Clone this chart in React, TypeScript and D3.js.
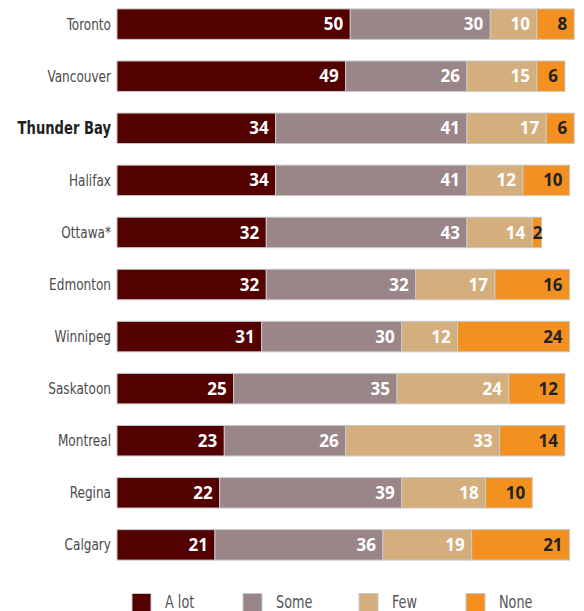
import React from "react";
import * as d3 from "d3";

const cities = ["Toronto", "Vancouver", "Thunder Bay", "Halifax", "Ottawa*", "Edmonton", "Winnipeg", "Saskatoon", "Montreal", "Regina", "Calgary"];
const aLot = [50, 49, 34, 34, 32, 32, 31, 25, 23, 22, 21];
const some = [30, 26, 41, 41, 43, 32, 30, 35, 26, 39, 36];
const few = [10, 15, 17, 12, 14, 17, 12, 24, 33, 18, 19];
const none = [8, 6, 6, 10, 2, 16, 24, 12, 14, 10, 21];
const seriesNames = ["A lot", "Some", "Few", "None"];
const colors = ["#520000", "#9a8589", "#d4ae7c", "#f39120"];
const textColors = ["#ffffff", "#ffffff", "#ffffff", "#222222"];
const highlight = "Thunder Bay";

export default function App() {
  const W = 584, H = 611;
  const x0 = 117;
  const x = d3.scaleLinear().domain([0, 100]).range([0, 466.6]);
  const y = d3.scaleBand().domain(cities).range([-1.5, 570.5]).paddingInner(0.415).paddingOuter(0.2);
  const series = [aLot, some, few, none];
  const labelFont = "'DejaVu Sans Condensed', sans-serif";
  const numFont = "'Open Sans', sans-serif";
  const legendX = [132, 243, 359, 466];

  return (
    <svg width={W} height={H} style={{ position: "absolute", left: 0, top: 0 }}>
      {cities.map((c, i) => {
        let acc = 0;
        const yy = y(c) as number;
        const bh = y.bandwidth();
        const hl = c === highlight;
        return (
          <g key={c}>
            <text transform={`translate(${x0 - 6},${yy + bh / 2}) scale(${hl ? 0.86 : 0.84},1)`} dy="0.35em" textAnchor="end" fontFamily={labelFont}
              fontSize={hl ? 17 : 16} fontWeight={hl ? 700 : 400}
              fill={hl ? "#222" : "#4a4a4a"}>{c}</text>
            {series.map((s, k) => {
              const v = s[i];
              const sx = x0 + x(acc);
              acc += v;
              const ex = x0 + x(acc);
              const tx = v < 5 ? ex + 1 : ex - 7;
              return (
                <g key={k}>
                  <rect x={sx} y={yy} width={ex - sx} height={bh} fill={colors[k]} stroke="#c9c9c9" strokeWidth={1} />
                  <text x={tx} y={yy + bh / 2} dy="0.36em" textAnchor="end" fontFamily={numFont}
                    fontWeight={700} fontSize={17} fill={textColors[k]}>{v}</text>
                </g>
              );
            })}
          </g>
        );
      })}
      {seriesNames.map((n, k) => (
        <g key={n}>
          <rect x={legendX[k]} y={593.5} width={19} height={19} fill={colors[k]} stroke="#c9c9c9" strokeWidth={1} />
          <text transform={`translate(${legendX[k] + 33},602) scale(0.84,1)`} dy="0.35em" fontFamily={labelFont} fontSize={17} fill="#555">{n}</text>
        </g>
      ))}
    </svg>
  );
}
